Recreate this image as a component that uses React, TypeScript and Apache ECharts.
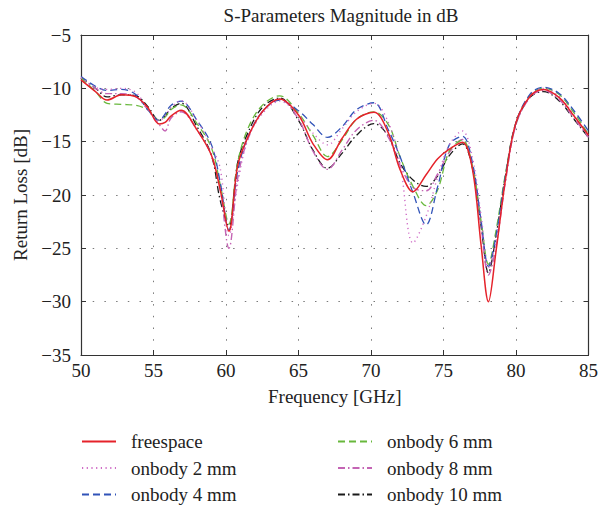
import React, { useEffect, useRef } from "react";
import * as echarts from "echarts";

const freq = [50, 51, 51.8, 52.8, 53.8, 54.6, 55.4, 55.8, 56.2, 56.9, 58, 59, 59.6, 60.2, 60.8, 61.5, 62.5, 63.7, 65, 66, 67, 68, 69, 70.2, 71.2, 72, 72.9, 73.8, 74.6, 75.4, 76.3, 77, 77.6, 78.1, 78.6, 79.3, 80, 81, 81.9, 83, 84, 85];

const freespace = [-9.2, -10.3, -11.1, -10.6, -10.8, -11.8, -13.35, -13.2, -12.6, -12.05, -13.9, -16.3, -19.5, -23.4, -17.3, -14.6, -12.2, -11.0, -12.5, -15.2, -16.7, -14.7, -12.9, -12.25, -14.2, -17.6, -19.7, -18.1, -16.6, -15.7, -15.05, -17.6, -24.8, -30.0, -25.5, -18.3, -13.2, -10.7, -10.1, -10.9, -12.6, -14.4];
const onbody2 = [-9.0, -9.9, -10.1, -10.0, -10.4, -12.0, -13.0, -12.6, -11.8, -11.15, -13.0, -15.5, -17.5, -23.8, -19.0, -14.8, -12.4, -11.2, -12.5, -14.2, -15.3, -13.8, -12.2, -11.4, -13.2, -17.0, -24.5, -22.0, -18.3, -15.3, -14.0, -16.5, -22.0, -26.8, -24.5, -18.5, -13.4, -10.7, -10.0, -10.8, -12.5, -14.5];
const onbody4 = [-8.9, -9.8, -10.2, -10.1, -10.6, -12.0, -13.0, -12.4, -11.6, -11.2, -13.0, -15.3, -18.8, -23.3, -17.8, -14.6, -12.2, -11.1, -12.1, -13.4, -14.6, -13.6, -12.0, -11.35, -13.9, -16.4, -19.8, -22.8, -19.2, -15.3, -14.5, -17.0, -22.5, -26.7, -24.0, -18.0, -13.2, -10.5, -9.9, -10.5, -12.1, -14.0];
const onbody6 = [-9.0, -10.3, -11.4, -11.5, -11.6, -12.0, -13.0, -12.7, -12.0, -11.55, -13.3, -15.6, -19.0, -22.7, -17.0, -13.8, -11.6, -10.7, -12.35, -14.4, -16.4, -14.85, -12.9, -12.2, -13.4, -16.4, -19.2, -21.0, -19.5, -15.9, -14.85, -17.3, -22.5, -26.5, -23.5, -17.8, -13.2, -10.6, -10.0, -10.6, -12.3, -14.3];
const onbody8 = [-9.0, -10.0, -10.5, -10.5, -10.8, -12.0, -13.4, -14.0, -12.8, -12.2, -13.9, -16.3, -19.5, -25.0, -18.5, -14.8, -12.2, -11.0, -12.9, -15.9, -17.6, -15.8, -13.9, -13.0, -14.6, -17.2, -19.3, -19.6, -18.0, -16.0, -14.8, -17.5, -23.0, -27.5, -25.0, -18.5, -13.4, -10.8, -10.2, -11.1, -12.8, -14.6];
const onbody10 = [-9.0, -10.0, -10.8, -10.6, -10.7, -11.7, -13.0, -12.6, -11.9, -11.4, -13.6, -16.3, -20.5, -22.9, -17.0, -14.2, -11.8, -10.9, -13.0, -15.8, -17.5, -16.1, -14.4, -13.3, -14.5, -17.0, -18.6, -19.2, -18.2, -16.3, -15.2, -17.5, -23.0, -27.3, -24.0, -18.0, -13.3, -10.8, -10.3, -11.2, -12.9, -14.6];

const seriesNames = ["freespace", "onbody 2 mm", "onbody 4 mm", "onbody 6 mm", "onbody 8 mm", "onbody 10 mm"];
const seriesValues = [freespace, onbody2, onbody4, onbody6, onbody8, onbody10];
const seriesColors = ["#e5222a", "#cf6cc6", "#3153b8", "#68b83c", "#c464b4", "#1a1a1a"];
const seriesDash: any[] = ["solid", [1.2, 3.5], [7, 4], [7, 4], [7, 3, 1.5, 3], [7, 3, 1.5, 3]];
const seriesWidth = [1.5, 1.4, 1.3, 1.3, 1.4, 1.3];

const xTicks = { min: 50, max: 85, interval: 5 };
const yTicks = { min: -35, max: -5, interval: 5 };

const FONT = "'Liberation Serif', 'Times New Roman', serif";
const minus = (v: number) => String(v).replace("-", "\u2212");

export default function App() {
  const ref = useRef<HTMLDivElement>(null);
  useEffect(() => {
    if (!ref.current) return;
    const chart = echarts.init(ref.current, undefined, { renderer: "svg" });
    const gridLine = { show: true, lineStyle: { color: "#7a7a7a", type: [1.5, 10.2] as any, width: 1 } };
    const axisLine = { show: true, lineStyle: { color: "#333", width: 1.2 } };
    const tick = { show: true, inside: true, length: 5, lineStyle: { color: "#333", width: 1 } };
    const label = { color: "#222", fontSize: 19, fontFamily: FONT };
    const legendBase = {
      orient: "vertical",
      top: 432,
      height: 78,
      padding: 0,
      itemWidth: 34,
      itemHeight: 12,
      itemGap: 7.5,
      itemStyle: { opacity: 0 },
      textStyle: { ...label, lineHeight: 19, padding: [0, 0, 0, 10] },
    };
    chart.setOption({
      animation: false,
      backgroundColor: "#fff",
      title: {
        text: "S-Parameters Magnitude in dB",
        left: 336,
        textAlign: "center",
        top: 1,
        textStyle: { color: "#222", fontSize: 19, fontWeight: "normal", fontFamily: FONT },
      },
      grid: { left: 81, top: 35, right: 10, bottom: 154 },
      xAxis: [
        {
          type: "value", ...xTicks, position: "bottom",
          axisLine, axisTick: tick, splitLine: gridLine,
          axisLabel: { ...label, margin: 6 },
          name: "Frequency [GHz]", nameLocation: "middle", nameGap: 32,
          nameTextStyle: { ...label },
        },
        {
          type: "value", ...xTicks, position: "top",
          axisLine, axisTick: tick, splitLine: { show: false }, axisLabel: { show: false },
        },
      ],
      yAxis: [
        {
          type: "value", ...yTicks, position: "left",
          axisLine, axisTick: tick, splitLine: gridLine,
          axisLabel: { ...label, margin: 10, formatter: minus },
          name: "Return Loss [dB]", nameLocation: "middle", nameGap: 51,
          nameTextStyle: { ...label },
        },
        {
          type: "value", ...yTicks, position: "right",
          axisLine, axisTick: tick, splitLine: { show: false }, axisLabel: { show: false },
        },
      ],
      legend: [
        { ...legendBase, data: seriesNames.slice(0, 3), left: 81 },
        { ...legendBase, data: seriesNames.slice(3), left: 337 },
      ],
      series: seriesNames.map((name, k) => ({
        name,
        type: "line",
        xAxisIndex: 0,
        yAxisIndex: 0,
        smooth: 0.35,
        symbol: "none",
        showSymbol: false,
        data: freq.map((f, i) => [f, seriesValues[k][i]]),
        lineStyle: { color: seriesColors[k], width: seriesWidth[k], type: seriesDash[k] },
        itemStyle: { color: seriesColors[k] },
        z: 10 - k,
      })),
    });
    return () => chart.dispose();
  }, []);
  return <div ref={ref} style={{ position: "fixed", left: 0, top: 0, width: 601, height: 509 }} />;
}
